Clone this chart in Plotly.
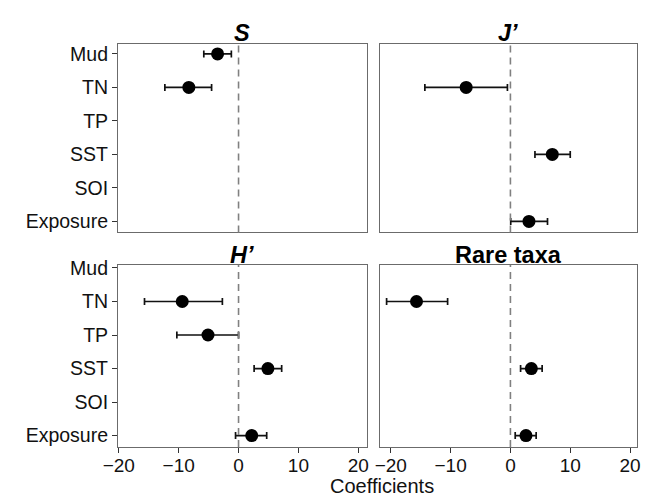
import plotly.graph_objects as go

categories = ["Mud", "TN", "TP", "SST", "SOI", "Exposure"]

panel_titles = ["<b><i>S</i></b>", "<b><i>J’</i></b>", "<b><i>H’</i></b>", "<b>Rare taxa</b>"]

# coefficient, lower and upper bounds per panel (None = not in model)
s_coef = [-3.5, -8.3, None, None, None, None]
s_low = [-5.8, -12.3, None, None, None, None]
s_high = [-1.2, -4.5, None, None, None, None]

j_coef = [None, -7.4, None, 7.0, None, 3.1]
j_low = [None, -14.3, None, 4.1, None, 0.05]
j_high = [None, -0.5, None, 10.0, None, 6.2]

h_coef = [None, -9.4, -5.1, 4.9, None, 2.2]
h_low = [None, -15.7, -10.3, 2.6, None, -0.5]
h_high = [None, -2.7, 0.0, 7.2, None, 4.7]

r_coef = [None, -15.7, None, 3.5, None, 2.6]
r_low = [None, -20.7, None, 1.7, None, 0.8]
r_high = [None, -10.5, None, 5.3, None, 4.3]

x_ticks = [-20, -10, 0, 10, 20]

panels = [
    (s_coef, s_low, s_high),
    (j_coef, j_low, j_high),
    (h_coef, h_low, h_high),
    (r_coef, r_low, r_high),
]

W, H = 654, 498
OFF = 8  # page body margin offset
# panel pixel boxes in page coordinates: (left, right, top, bottom)
boxes = [
    (106, 362, 36.7, 228),
    (375.7, 640, 36.7, 228),
    (106, 362, 260.7, 446),
    (375.7, 640, 260.7, 446),
]
title_y = [25.5, 25.5, 250.5, 250.5]
x_ranges = [[-20.1, 21.4], [-21.8, 21.1], [-20.1, 21.4], [-21.8, 21.1]]
y_ranges = [[5.33, -0.29], [5.33, -0.29], [5.34, -0.1], [5.34, -0.1]]


def px(x):
    return (x - OFF) / W


def py(y):
    return 1 - (y - OFF) / H


fig = go.Figure()
FONT = "Liberation Sans, Arial, Helvetica, sans-serif"
frame_col = "#6b6b6b"

for i, (coef, low, high) in enumerate(panels):
    idx = [k for k, c in enumerate(coef) if c is not None]
    xs = [coef[k] for k in idx]
    ys = [k for k in idx]
    plus = [high[k] - coef[k] for k in idx]
    minus = [coef[k] - low[k] for k in idx]
    suf = "" if i == 0 else str(i + 1)
    fig.add_trace(go.Scatter(
        x=xs, y=ys, mode="markers",
        marker=dict(color="black", size=13),
        error_x=dict(type="data", symmetric=False, array=plus, arrayminus=minus,
                     color="#111111", thickness=1.7, width=3.5),
        xaxis="x" + suf, yaxis="y" + suf, showlegend=False,
    ))
    l, r, t, b = boxes[i]
    xdom = [px(l), px(r)]
    ydom = [py(b), py(t)]
    bottom_row = i >= 2
    left_col = i % 2 == 0
    fig.layout["xaxis" + suf] = dict(
        domain=xdom, range=x_ranges[i], anchor="y" + suf,
        tickvals=x_ticks, showticklabels=bottom_row,
        ticks="outside" if bottom_row else "", ticklen=5, tickwidth=1.3, tickcolor="#333333",
        ticklabelstandoff=-4,
        showline=True, mirror=True, linecolor=frame_col, linewidth=1.4,
        showgrid=False, zeroline=False,
        tickfont=dict(family=FONT, size=19, color="#111111"),
    )
    fig.layout["yaxis" + suf] = dict(
        domain=ydom, range=y_ranges[i], anchor="x" + suf,
        tickvals=list(range(len(categories))), ticktext=categories,
        showticklabels=left_col,
        ticks="outside" if left_col else "", ticklen=5, tickwidth=1.3, tickcolor="#333333",
        showline=True, mirror=True, linecolor=frame_col, linewidth=1.4,
        showgrid=False, zeroline=False,
        tickfont=dict(family=FONT, size=19.5, color="#111111"),
    )
    fig.add_shape(type="line", xref="x" + suf, yref="y" + suf + " domain",
                  x0=0, x1=0, y0=0, y1=1,
                  line=dict(color="#808080", width=1.6, dash="7px,5px"))
    fig.add_annotation(text=panel_titles[i], xref="paper", yref="paper",
                       x=px((l + r) / 2), y=py(title_y[i]),
                       xanchor="center", yanchor="middle", showarrow=False,
                       font=dict(family=FONT, size=23.5, color="black"))

fig.add_annotation(text="Coefficients", xref="paper", yref="paper",
                   x=px(378), y=py(486), borderpad=0,
                   xanchor="center", yanchor="middle", showarrow=False,
                   font=dict(family=FONT, size=20, color="#111111"))

fig.update_layout(width=W, height=H, margin=dict(l=0, r=0, t=0, b=0),
                  paper_bgcolor="white", plot_bgcolor="white")

fig.write_html("out.html")
